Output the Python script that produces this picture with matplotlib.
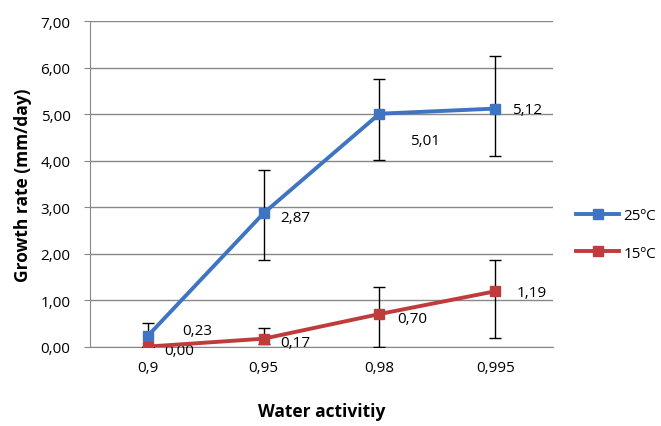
import matplotlib.pyplot as plt
from matplotlib.lines import Line2D
import numpy as np

plt.rcParams["font.family"] = ["Open Sans", "DejaVu Sans"]

categories = ["0,9", "0,95", "0,98", "0,995"]
rate_25 = [0.23, 2.87, 5.01, 5.12]
rate_15 = [0.00, 0.17, 0.70, 1.19]
err_25_low = [0.23, 1.00, 1.00, 1.02]
err_25_high = [0.28, 0.92, 0.74, 1.13]
err_15_low = [0.00, 0.12, 0.70, 1.01]
err_15_high = [0.00, 0.22, 0.59, 0.68]
labels_25 = ["0,23", "2,87", "5,01", "5,12"]
labels_15 = ["0,00", "0,17", "0,70", "1,19"]

blue = "#3f74c2"
red = "#c03b3b"

fig = plt.figure(figsize=(6.61, 4.27), dpi=100)
ax = fig.add_axes([0.136, 0.186, 0.701, 0.762])

x = np.arange(len(categories))
ax.errorbar(x, rate_25, yerr=[err_25_low, err_25_high], color=blue, lw=2.8,
            marker="s", ms=7, ecolor="black", elinewidth=1, capsize=4,
            capthick=1, zorder=3)
ax.errorbar(x, rate_15, yerr=[err_15_low, err_15_high], color=red, lw=2.8,
            marker="s", ms=7, ecolor="black", elinewidth=1, capsize=4,
            capthick=1, zorder=3)

offs_25 = [(25, 4), (12, -3), (22, -19), (12, -1)]
offs_15 = [(12, -3), (12, -3), (13, -3), (15, -1)]
for i in range(len(categories)):
    ax.annotate(labels_25[i], (x[i], rate_25[i]), xytext=offs_25[i],
                textcoords="offset points", fontsize=11, va="center")
    ax.annotate(labels_15[i], (x[i], rate_15[i]), xytext=offs_15[i],
                textcoords="offset points", fontsize=11, va="center")

ax.set_xlim(-0.5, 3.5)
ax.set_ylim(0, 7)
ax.set_yticks(np.arange(0, 8))
ax.set_yticklabels([f"{v},00" for v in range(8)])
ax.set_xticks(x)
ax.set_xticklabels(categories)
ax.tick_params(axis="x", length=0, pad=10, labelsize=11)
ax.tick_params(axis="y", length=4, color="#888888", pad=10, labelsize=11)
ax.grid(axis="y", color="#888888", lw=1)
ax.set_axisbelow(True)
for s in ["top", "right"]:
    ax.spines[s].set_visible(False)
for s in ["left", "bottom"]:
    ax.spines[s].set_color("#888888")

ax.set_ylabel("Growth rate (mm/day)", fontsize=12.5, fontweight="bold", labelpad=6)
ax.set_xlabel("Water activitiy", fontsize=12.5, fontweight="bold", labelpad=19)

handles = [
    Line2D([], [], color=blue, lw=2.8, marker="s", ms=7),
    Line2D([], [], color=red, lw=2.8, marker="s", ms=7),
]
ax.legend(handles, ["25ºC", "15ºC"], loc="center left",
          bbox_to_anchor=(1.02, 0.345), frameon=False, fontsize=11,
          handlelength=2.8, handletextpad=0.3, labelspacing=1.5)

fig.savefig("out.png", dpi=100)
